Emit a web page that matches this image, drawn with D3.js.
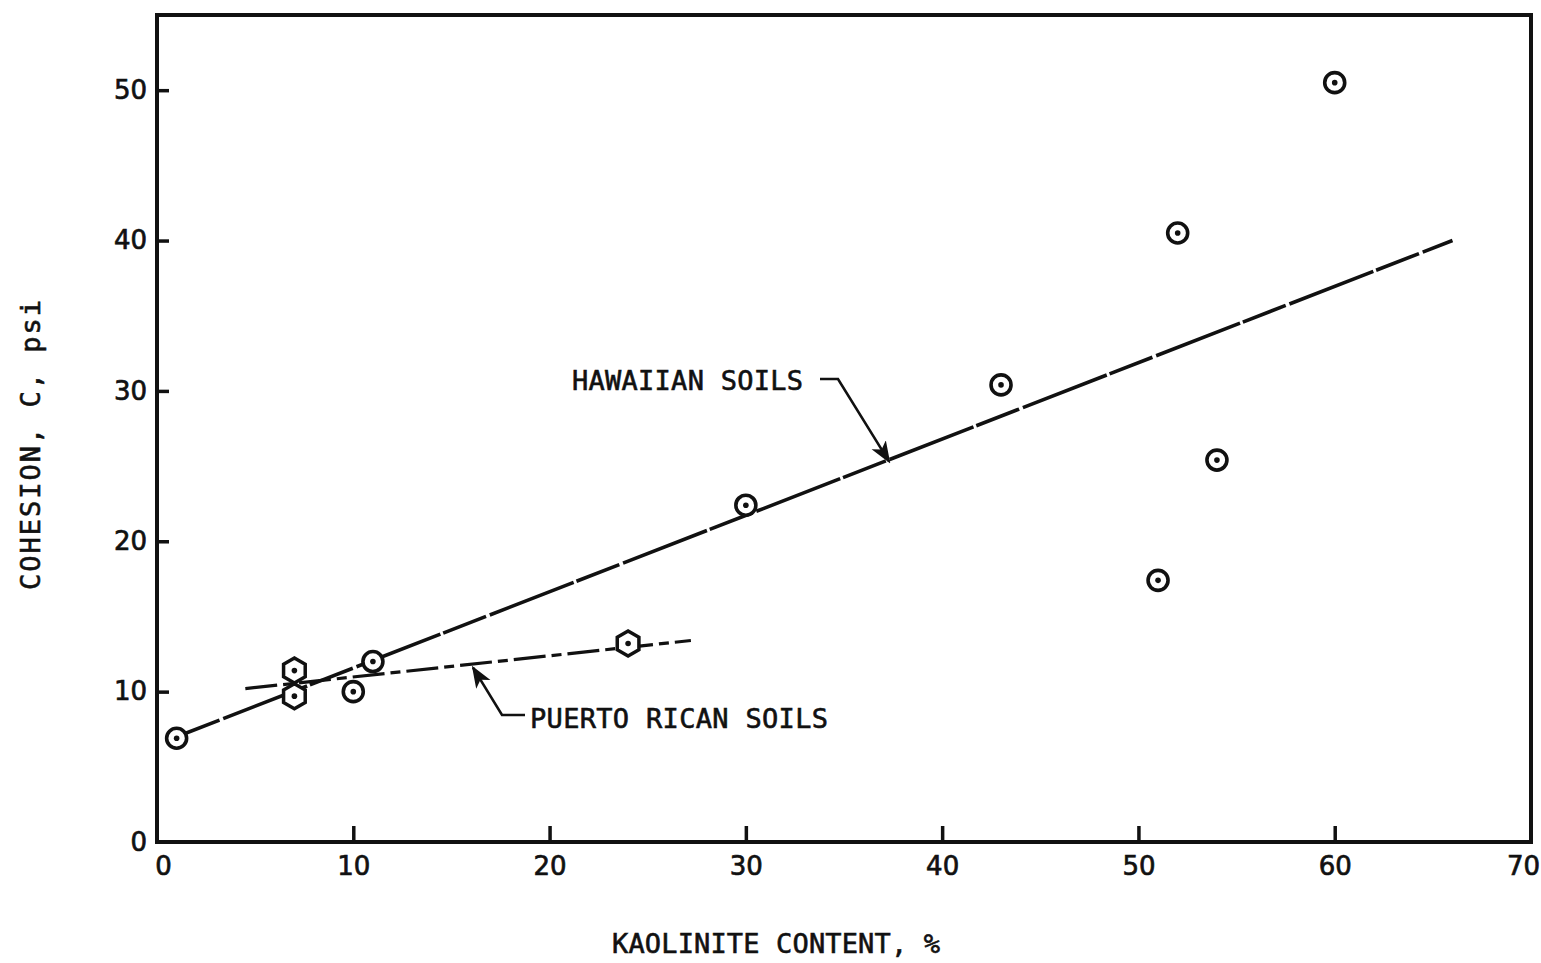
<!DOCTYPE html>
<html><head><meta charset="utf-8">
<script src="https://cdn.jsdelivr.net/npm/d3@7"></script>
<style>
html,body{margin:0;padding:0;background:#fff;}
svg{display:block;}
.tick text{font-family:"DejaVu Sans",sans-serif;font-size:26px;fill:#111;stroke:#111;stroke-width:0.7px;}
.lbl{font-family:"DejaVu Sans Mono",monospace;font-size:27px;fill:#111;stroke:#111;stroke-width:0.6px;}
</style></head>
<body>
<svg id="c" width="1541" height="963"></svg>
<script>
// ---- data ----
const xTicks = [0,10,20,30,40,50,60,70];
const yTicks = [0,10,20,30,40,50];
const hawaiiX = [1.0, 10.0, 11.0, 30.0, 43.0, 51.0, 52.0, 54.0, 60.0];
const hawaiiY = [6.9, 10.0, 12.0, 22.4, 30.4, 17.4, 40.5, 25.4, 50.5];
const puertoX = [7.0, 7.0, 24.0];
const puertoY = [11.4, 9.7, 13.2];
const hawaiiLineX = [1.0, 66.0];
const hawaiiLineY = [7.0, 40.0];
const puertoLineX = [4.5, 27.2];
const puertoLineY = [10.2, 13.4];
const xTitle = "KAOLINITE CONTENT, %";
const yTitle = "COHESION, C, psi";

const svg = d3.select("#c");
const m = {l:157, r:1531, t:15, b:842};
const x = d3.scaleLinear().domain([0,70]).range([m.l, m.r]);
const y = d3.scaleLinear().domain([0,55]).range([m.b, m.t]);

// frame
svg.append("rect").attr("x",m.l).attr("y",m.t).attr("width",m.r-m.l).attr("height",m.b-m.t)
  .attr("fill","none").attr("stroke","#111").attr("stroke-width",4);

// axes
const ax = svg.append("g").attr("transform",`translate(0,${m.b})`)
  .call(d3.axisBottom(x).tickValues(xTicks).tickSize(-16).tickPadding(15));
ax.select(".domain").remove();
ax.selectAll(".tick line").attr("stroke","#111").attr("stroke-width",3.5)
  .attr("display",d=> (d===0||d===70)?"none":null);
ax.selectAll(".tick text").attr("dx", d=> d===0?"6":(d===70?"-8":"0"));

const ay = svg.append("g").attr("transform",`translate(${m.l},0)`)
  .call(d3.axisLeft(y).tickValues(yTicks).tickSize(-12).tickPadding(10));
ay.select(".domain").remove();
ay.selectAll(".tick line").attr("stroke","#111").attr("stroke-width",3.5)
  .attr("display",d=> d===0?"none":null);

// fit lines
const line = d3.line().x(d=>x(d[0])).y(d=>y(d[1]));
svg.append("path").datum(hawaiiLineX.map((v,i)=>[v,hawaiiLineY[i]]))
  .attr("d",line).attr("fill","none").attr("stroke","#111").attr("stroke-width",3.6)
  .attr("stroke-dasharray","46,4,90,3");
svg.append("path").datum(puertoLineX.map((v,i)=>[v,puertoLineY[i]]))
  .attr("d",line).attr("fill","none").attr("stroke","#111").attr("stroke-width",3.2)
  .attr("stroke-dasharray","32,6,10,6");

// markers
const hex = d3.range(6).map(i=>{const a=Math.PI/3*i - Math.PI/2; return [12.5*Math.cos(a),12.5*Math.sin(a)];});
const gp = svg.append("g").selectAll("g").data(puertoX.map((v,i)=>[v,puertoY[i]])).join("g")
  .attr("transform",d=>`translate(${x(d[0])},${y(d[1])})`);
gp.append("path").attr("d","M"+hex.join("L")+"Z").attr("fill","#fff").attr("stroke","#111").attr("stroke-width",3.5);
gp.append("circle").attr("r",2.8).attr("fill","#111");

const gh = svg.append("g").selectAll("g").data(hawaiiX.map((v,i)=>[v,hawaiiY[i]])).join("g")
  .attr("transform",d=>`translate(${x(d[0])},${y(d[1])})`);
gh.append("circle").attr("r",10).attr("fill","#fff").attr("stroke","#111").attr("stroke-width",3.6);
gh.append("circle").attr("r",2.8).attr("fill","#111");

// annotations
const defs = svg.append("defs");
defs.append("marker").attr("id","arr").attr("viewBox","0 0 10 10").attr("refX",9).attr("refY",5)
  .attr("orient","auto").attr("markerUnits","userSpaceOnUse")
  .attr("markerWidth",22).attr("markerHeight",22)
  .append("path").attr("d","M0,1.2 L10,5 L0,8.8 L2.5,5 Z").attr("fill","#111");

svg.append("text").attr("class","lbl").attr("x",572).attr("y",390).attr("textLength",231).text("HAWAIIAN SOILS");
svg.append("path").attr("d",`M820,379 L838,379 L${x(37.3)},${y(25.3)}`).attr("fill","none")
  .attr("stroke","#111").attr("stroke-width",2.6).attr("marker-end","url(#arr)");

svg.append("text").attr("class","lbl").attr("x",530).attr("y",728).attr("textLength",298).text("PUERTO RICAN SOILS");
svg.append("path").attr("d",`M525,715 L502,715 L${x(16.1)},${y(11.6)}`).attr("fill","none")
  .attr("stroke","#111").attr("stroke-width",2.6).attr("marker-end","url(#arr)");

// titles
svg.append("text").attr("class","lbl").attr("x",776).attr("y",953).attr("text-anchor","middle")
  .attr("textLength",328).text(xTitle);
svg.append("text").attr("class","lbl").attr("transform","translate(40,445) rotate(-90)")
  .attr("text-anchor","middle").attr("textLength",290).text(yTitle);
</script>
</body></html>
